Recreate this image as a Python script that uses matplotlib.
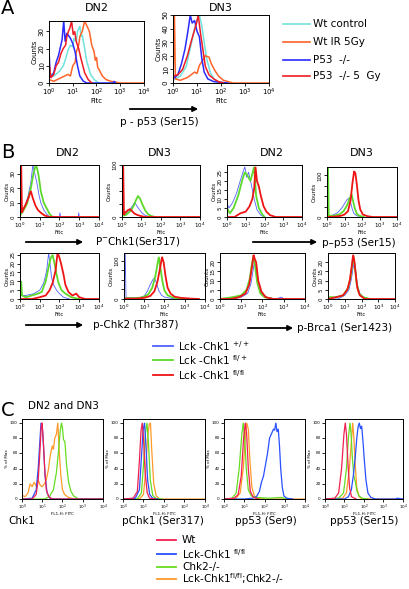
import matplotlib
matplotlib.use('Agg')
import matplotlib.pyplot as plt
import numpy as np

W, H = 410, 589

# ---- panel A : p-p53 (Ser15), Counts vs Fitc (log10 position, count)
A_DN2_WT = [(0.0, 6), (0.2, 4), (0.45, 7), (0.6, 10), (0.7, 14), (0.8, 19), (0.9, 22), (1.0, 21), (1.05, 26), (1.15, 24), (1.2, 30), (1.3, 33), (1.35, 27), (1.4, 28), (1.5, 20), (1.6, 12), (1.75, 5), (1.9, 2), (2.1, 0)]
A_DN2_IR = [(0.0, 2), (0.2, 1), (0.5, 3), (0.8, 5), (0.9, 4), (1.0, 10), (1.1, 12), (1.15, 18), (1.25, 22), (1.3, 27), (1.4, 30), (1.45, 33), (1.5, 36), (1.6, 33), (1.7, 30), (1.75, 26), (1.8, 22), (1.9, 18), (1.95, 13), (2.0, 15), (2.05, 9), (2.1, 8), (2.25, 4), (2.4, 2), (2.6, 1), (3.0, 0), (4.0, 0)]
A_DN2_KO = [(0.0, 20), (0.05, 3), (0.2, 6), (0.3, 12), (0.4, 16), (0.5, 22), (0.55, 25), (0.62, 36), (0.68, 24), (0.75, 29), (0.8, 28), (0.9, 26), (1.0, 23), (1.1, 18), (1.2, 10), (1.3, 4), (1.45, 1), (1.6, 0), (2.7, 0), (2.75, 1), (2.8, 0)]
A_DN2_KO5 = [(0.0, 12), (0.08, 3), (0.2, 5), (0.3, 10), (0.4, 12), (0.5, 17), (0.6, 20), (0.7, 22), (0.75, 27), (0.82, 30), (0.88, 32), (0.95, 36), (1.02, 28), (1.08, 30), (1.15, 24), (1.25, 20), (1.35, 14), (1.5, 6), (1.65, 2), (1.8, 0)]
A_DN3_WT = [(0.0, 2), (0.3, 5), (0.55, 12), (0.75, 28), (0.9, 40), (1.0, 46), (1.1, 50), (1.2, 42), (1.3, 30), (1.4, 18), (1.55, 8), (1.7, 3), (1.9, 0)]
A_DN3_IR = [(0.0, 0), (0.06, 50), (0.1, 3), (0.3, 2), (0.6, 4), (0.9, 8), (1.0, 7), (1.1, 13), (1.25, 17), (1.35, 20), (1.5, 19), (1.6, 14), (1.75, 9), (1.9, 5), (2.1, 2), (2.3, 1), (2.5, 0), (4.0, 0)]
A_DN3_KO = [(0.0, 3), (0.2, 6), (0.35, 14), (0.5, 25), (0.62, 38), (0.72, 50), (0.8, 44), (0.9, 46), (1.0, 38), (1.1, 34), (1.2, 18), (1.3, 8), (1.45, 3), (1.7, 1), (2.3, 0)]
A_DN3_KO5 = [(0.0, 5), (0.2, 6), (0.4, 10), (0.6, 20), (0.75, 30), (0.88, 38), (0.98, 44), (1.05, 50), (1.15, 36), (1.25, 24), (1.35, 12), (1.5, 6), (1.7, 3), (1.9, 1), (2.1, 0)]

# ---- panel B : Lck-Chk1 +/+ (blue), fl/+ (green), fl/fl (red)
B1_DN2_WT = [(0.0, 2), (0.2, 5), (0.4, 14), (0.55, 24), (0.65, 36), (0.75, 30), (0.85, 24), (0.95, 16), (1.05, 10), (1.2, 5), (1.35, 2), (1.5, 0), (2.0, 0), (2.02, 3), (2.05, 0), (2.95, 0), (2.97, 3), (3.0, 0)]
B1_DN2_HET = [(0.0, 1), (0.15, 4), (0.35, 9), (0.55, 20), (0.68, 30), (0.8, 36), (0.88, 33), (0.95, 28), (1.05, 18), (1.2, 10), (1.35, 6), (1.5, 2), (1.65, 0)]
B1_DN2_FL = [(0.0, 0), (0.06, 36), (0.1, 3), (0.15, 5), (0.3, 9), (0.45, 14), (0.55, 18), (0.65, 13), (0.78, 8), (0.9, 5), (1.05, 3), (1.25, 1), (1.5, 0), (4.0, 0)]
B1_DN3_WT = [(0.0, 3), (0.2, 6), (0.4, 14), (0.55, 22), (0.65, 28), (0.75, 22), (0.88, 15), (1.0, 9), (1.15, 4), (1.35, 1), (1.6, 0)]
B1_DN3_HET = [(0.0, 2), (0.2, 4), (0.45, 12), (0.6, 22), (0.72, 33), (0.82, 40), (0.92, 36), (1.05, 24), (1.2, 12), (1.35, 5), (1.5, 2), (1.7, 0)]
B1_DN3_FL = [(0.0, 0), (0.06, 100), (0.1, 4), (0.15, 8), (0.3, 13), (0.4, 15), (0.5, 12), (0.62, 7), (0.78, 4), (0.95, 2), (1.2, 0), (4.0, 0)]
B1_DN2b_WT = [(0.0, 8), (0.1, 5), (0.3, 8), (0.5, 13), (0.7, 20), (0.85, 25), (0.95, 28), (1.05, 22), (1.15, 25), (1.3, 18), (1.45, 10), (1.6, 4), (1.8, 1), (2.0, 0)]
B1_DN2b_HET = [(0.0, 5), (0.15, 2), (0.35, 5), (0.6, 12), (0.8, 20), (0.95, 25), (1.1, 23), (1.25, 20), (1.35, 24), (1.45, 28), (1.55, 12), (1.7, 5), (1.85, 2), (2.0, 0)]
B1_DN2b_FL = [(0.0, 0), (0.4, 0), (0.7, 2), (1.0, 3), (1.2, 6), (1.35, 10), (1.45, 16), (1.52, 28), (1.6, 20), (1.7, 17), (1.8, 12), (1.95, 6), (2.1, 3), (2.3, 1), (2.6, 0), (4.0, 0)]
B1_DN3b_WT = [(0.0, 2), (0.3, 4), (0.6, 10), (0.85, 22), (1.0, 32), (1.15, 42), (1.25, 45), (1.35, 35), (1.45, 18), (1.55, 8), (1.7, 3), (2.0, 0)]
B1_DN3b_HET = [(0.0, 0), (0.06, 120), (0.1, 3), (0.4, 3), (0.7, 6), (0.95, 14), (1.15, 28), (1.3, 45), (1.4, 55), (1.48, 40), (1.58, 22), (1.7, 8), (1.85, 3), (2.1, 0)]
B1_DN3b_FL = [(0.0, 0), (0.5, 1), (0.8, 3), (1.0, 6), (1.2, 14), (1.35, 40), (1.45, 80), (1.55, 110), (1.62, 105), (1.7, 80), (1.8, 40), (1.9, 18), (2.05, 6), (2.3, 2), (2.6, 0), (4.0, 0)]

B2_DN2_WT = [(0.0, 2), (0.3, 2), (0.7, 3), (1.0, 5), (1.2, 9), (1.35, 16), (1.45, 26), (1.52, 20), (1.6, 12), (1.7, 8), (1.85, 5), (2.0, 3), (2.2, 1), (2.5, 0)]
B2_DN2_HET = [(0.0, 0), (0.06, 10), (0.1, 2), (0.3, 1), (0.6, 2), (0.9, 3), (1.1, 4), (1.3, 10), (1.45, 18), (1.55, 23), (1.65, 25), (1.75, 20), (1.85, 14), (1.95, 9), (2.1, 5), (2.3, 3), (2.6, 1), (3.0, 0)]
B2_DN2_FL = [(0.0, 0), (0.6, 0), (1.0, 1), (1.3, 2), (1.5, 5), (1.65, 9), (1.8, 16), (1.9, 26), (1.98, 24), (2.08, 20), (2.2, 14), (2.3, 8), (2.45, 4), (2.65, 2), (2.85, 3), (3.0, 1), (3.3, 0), (4.0, 0)]
B2_DN3_WT = [(0.0, 0), (0.06, 120), (0.1, 3), (0.4, 3), (0.8, 4), (1.0, 8), (1.15, 20), (1.3, 38), (1.42, 50), (1.5, 55), (1.6, 42), (1.72, 22), (1.85, 10), (2.0, 5), (2.3, 2), (2.8, 0)]
B2_DN3_HET = [(0.0, 2), (0.5, 2), (0.9, 4), (1.2, 12), (1.4, 30), (1.55, 60), (1.65, 90), (1.72, 110), (1.8, 80), (1.9, 45), (2.0, 22), (2.15, 10), (2.4, 4), (2.7, 1), (3.0, 0)]
B2_DN3_FL = [(0.0, 1), (0.6, 1), (1.0, 3), (1.3, 8), (1.5, 20), (1.65, 45), (1.78, 80), (1.88, 110), (1.96, 95), (2.05, 60), (2.15, 30), (2.3, 14), (2.5, 6), (2.8, 3), (3.3, 1), (3.7, 0)]
B2_DN2b_WT = [(0.0, 0), (0.6, 0), (1.0, 1), (1.3, 3), (1.45, 8), (1.55, 15), (1.62, 20), (1.7, 16), (1.8, 8), (1.95, 3), (2.2, 1), (2.6, 0), (2.9, 1), (3.0, 0)]
B2_DN2b_HET = [(0.0, 0), (0.6, 1), (1.0, 2), (1.25, 5), (1.4, 11), (1.5, 19), (1.57, 23), (1.65, 18), (1.75, 9), (1.9, 3), (2.1, 1), (2.5, 0)]
B2_DN2b_FL = [(0.0, 0), (0.5, 0), (0.9, 1), (1.2, 3), (1.38, 8), (1.5, 17), (1.58, 24), (1.63, 22), (1.7, 20), (1.8, 10), (1.95, 4), (2.15, 1), (2.5, 0), (4.0, 0)]
B2_DN3b_WT = [(0.0, 0), (0.6, 0), (1.0, 2), (1.25, 5), (1.4, 11), (1.5, 17), (1.57, 20), (1.65, 16), (1.75, 8), (1.9, 3), (2.1, 1), (2.5, 0)]
B2_DN3b_HET = [(0.0, 1), (0.5, 1), (0.9, 2), (1.2, 6), (1.35, 12), (1.45, 19), (1.52, 23), (1.6, 18), (1.7, 9), (1.85, 3), (2.1, 1), (2.5, 0)]
B2_DN3b_FL = [(0.0, 0), (0.5, 1), (0.9, 2), (1.15, 5), (1.3, 10), (1.42, 18), (1.5, 24), (1.57, 21), (1.65, 14), (1.75, 6), (1.9, 2), (2.2, 0), (4.0, 0)]

# ---- panel C : % of Max vs FL1-H: FITC ; Wt, Lck-Chk1 fl/fl, Chk2-/-, double
C_CHK1_WT = [(0.0, 0), (0.5, 0), (0.7, 6), (0.8, 25), (0.88, 60), (0.95, 95), (0.99, 100), (1.05, 78), (1.12, 40), (1.2, 12), (1.32, 3), (1.5, 0), (4.0, 0)]
C_CHK1_KO = [(0.0, 0), (0.5, 1), (0.7, 12), (0.8, 40), (0.88, 75), (0.94, 100), (1.0, 96), (1.06, 70), (1.14, 30), (1.24, 8), (1.38, 1), (1.6, 0), (4.0, 0)]
C_CHK1_CHK2 = [(0.0, 0), (1.1, 0), (1.35, 3), (1.55, 12), (1.7, 35), (1.8, 62), (1.88, 88), (1.95, 100), (2.0, 93), (2.05, 78), (2.12, 75), (2.2, 45), (2.3, 22), (2.42, 10), (2.55, 4), (2.8, 0), (4.0, 0)]
C_CHK1_DKO = [(0.0, 5), (0.15, 3), (0.3, 8), (0.4, 20), (0.5, 16), (0.6, 22), (0.7, 17), (0.8, 25), (0.9, 18), (1.0, 16), (1.1, 20), (1.2, 25), (1.3, 38), (1.4, 58), (1.5, 70), (1.55, 65), (1.62, 80), (1.7, 85), (1.77, 100), (1.84, 62), (1.92, 30), (2.0, 12), (2.1, 6), (2.3, 2), (2.6, 0), (4.0, 0)]
C_PCHK1_WT = [(0.0, 0), (0.5, 1), (0.7, 10), (0.8, 50), (0.88, 90), (0.94, 100), (1.0, 80), (1.08, 35), (1.18, 8), (1.3, 1), (1.6, 0)]
C_PCHK1_KO = [(0.0, 0), (0.6, 1), (0.8, 12), (0.9, 55), (0.98, 90), (1.05, 100), (1.12, 70), (1.2, 25), (1.3, 6), (1.45, 1), (1.7, 0)]
C_PCHK1_CHK2 = [(0.0, 0), (0.7, 0), (0.9, 8), (1.0, 45), (1.1, 88), (1.17, 100), (1.25, 70), (1.33, 25), (1.45, 5), (1.6, 1), (1.9, 0)]
C_PCHK1_DKO = [(0.0, 0), (0.8, 0), (1.0, 6), (1.1, 35), (1.2, 80), (1.28, 98), (1.34, 100), (1.4, 65), (1.5, 20), (1.62, 4), (1.8, 0), (4.0, 0)]
C_S9_WT = [(0.0, 0), (0.5, 1), (0.7, 6), (0.85, 30), (0.97, 80), (1.05, 100), (1.12, 85), (1.2, 40), (1.3, 10), (1.45, 2), (1.7, 0)]
C_S9_KO = [(0.0, 0), (1.0, 0), (1.4, 1), (1.6, 3), (1.75, 10), (1.85, 22), (1.95, 30), (2.05, 45), (2.15, 60), (2.25, 80), (2.35, 86), (2.45, 92), (2.5, 90), (2.56, 100), (2.62, 88), (2.68, 92), (2.74, 70), (2.8, 40), (2.88, 15), (2.96, 4), (3.1, 1), (3.4, 0)]
C_S9_CHK2 = [(0.0, 0), (0.4, 1), (0.6, 8), (0.75, 40), (0.88, 85), (0.95, 100), (1.02, 80), (1.1, 40), (1.2, 12), (1.35, 4), (1.6, 2), (2.2, 1), (2.8, 2), (3.2, 0)]
C_S9_DKO = [(0.0, 0), (0.6, 1), (0.8, 8), (0.95, 40), (1.05, 80), (1.12, 100), (1.2, 92), (1.28, 50), (1.38, 15), (1.5, 4), (1.7, 1), (2.0, 0), (4.0, 0)]
C_S15_WT = [(0.0, 0), (0.5, 1), (0.7, 8), (0.85, 40), (0.97, 85), (1.04, 100), (1.1, 85), (1.18, 45), (1.26, 15), (1.36, 3), (1.6, 0)]
C_S15_KO = [(0.0, 0), (1.0, 0), (1.2, 3), (1.35, 12), (1.45, 30), (1.55, 55), (1.63, 80), (1.7, 95), (1.76, 100), (1.82, 92), (1.88, 96), (1.95, 75), (2.02, 50), (2.1, 25), (2.2, 8), (2.35, 2), (2.6, 0), (3.6, 0), (3.7, 1), (4.0, 0)]
C_S15_CHK2 = [(0.0, 0), (0.7, 1), (0.95, 8), (1.1, 40), (1.2, 80), (1.28, 100), (1.34, 85), (1.4, 55), (1.48, 30), (1.56, 22), (1.64, 10), (1.75, 4), (1.9, 1), (2.2, 0)]
C_S15_DKO = [(0.0, 0), (0.9, 1), (1.1, 8), (1.25, 40), (1.35, 75), (1.42, 100), (1.48, 80), (1.55, 45), (1.63, 15), (1.75, 3), (1.9, 0), (4.0, 0)]

A_COLORS = ['#6fe3dc', '#ff6428', '#2b2bff', '#ee1c25']
A_LABELS = ['Wt control', 'Wt IR 5Gy', 'P53  -/-', 'P53  -/- 5  Gy']
B_COLORS = ['#5060ff', '#5cd82a', '#ee1414']
C_COLORS = ['#f02050', '#2850ff', '#66dd22', '#ff9a2a']
C_LABELS = ['Wt', 'Lck-Chk1 $^{\\mathrm{fl/fl}}$', 'Chk2-/-', 'Lck-Chk1$^{\\mathrm{fl/fl}}$;Chk2-/-']

DECADES = [0, 1, 2, 3, 4]

fig = plt.figure(figsize=(W / 100, H / 100), dpi=100)
fig.patch.set_facecolor('white')


def fx(x):
    return x / W


def fy(y):
    return 1 - y / H


def make_axes(l, t, r, b):
    return fig.add_axes([fx(l), fy(b), fx(r - l), (b - t) / H])


def draw_hist(ax, curves, colors, widths, ylim, yticks, ylabels, tick_fs, ylabel, xlabel, rot=0):
    for pts, c, lw in zip(curves, colors, widths):
        lx = np.array([p[0] for p in pts])
        yv = np.array([p[1] for p in pts])
        ax.plot(10 ** lx, yv, color=c, lw=lw, solid_joinstyle='miter', clip_on=True)
    ax.set_xscale('log')
    ax.set_xlim(1, 1e4)
    ax.set_ylim(0, ylim)
    ax.set_xticks([10 ** d for d in DECADES])
    ax.set_xticklabels(['$10^{%d}$' % d for d in DECADES], fontsize=tick_fs)
    ax.xaxis.set_minor_locator(matplotlib.ticker.NullLocator())
    ax.set_yticks(yticks)
    ax.set_yticklabels(ylabels, fontsize=tick_fs, rotation=rot, va='center')
    ax.tick_params(length=2, width=0.6, pad=1)
    for s in ax.spines.values():
        s.set_linewidth(0.7)
    ax.set_ylabel(ylabel, fontsize=tick_fs, labelpad=1)
    ax.set_xlabel(xlabel, fontsize=tick_fs, labelpad=0)


def arrow(x0, x1, y):
    fig.add_artist(matplotlib.patches.FancyArrowPatch((fx(x0), fy(y)), (fx(x1), fy(y)),
                   transform=fig.transFigure, arrowstyle='-|>,head_length=3,head_width=1.5',
                   color='black', lw=1.3))


# ---------- panel A
fig.text(fx(1), fy(8), 'A', fontsize=14, va='center')
fig.text(fx(97), fy(8), 'DN2', fontsize=8, ha='center', va='center')
fig.text(fx(221), fy(8), 'DN3', fontsize=8, ha='center', va='center')
ax = make_axes(49, 21, 144, 83)
draw_hist(ax, [A_DN2_WT, A_DN2_IR, A_DN2_KO, A_DN2_KO5], A_COLORS, [1.1] * 4,
          36, [0, 10, 20, 30], ['0', '10', '20', '30'], 5, 'Counts', 'Fitc', rot=90)
ax = make_axes(173, 15, 269, 83)
draw_hist(ax, [A_DN3_WT, A_DN3_IR, A_DN3_KO, A_DN3_KO5], A_COLORS, [1.1] * 4,
          50, [0, 10, 20, 30, 40, 50], ['0', '10', '20', '30', '40', '50'], 5, 'Counts', 'Fitc', rot=90)
for i, (lab, c) in enumerate(zip(A_LABELS, A_COLORS)):
    y = [24, 42, 60, 76][i]
    fig.add_artist(matplotlib.lines.Line2D([fx(283), fx(310)], [fy(y), fy(y)], color=c, lw=1.2))
    fig.text(fx(313), fy(y), lab, fontsize=7.5, va='center')
arrow(127, 201, 109)
fig.text(fx(120), fy(122), 'p - p53 (Ser15)', fontsize=7.5, va='center')

# ---------- panel B
fig.text(fx(1), fy(153), 'B', fontsize=14, va='center')
for x, t in zip([68, 160, 272, 362], ['DN2', 'DN3', 'DN2', 'DN3']):
    fig.text(fx(x), fy(153), t, fontsize=8, ha='center', va='center')
bw = [0.6, 1.3, 1.3]
row1 = [(20, 165, 99, 217), (122, 165, 200, 217), (227, 165, 302, 217), (327, 167, 397, 217)]
row2 = [(20, 253, 99, 299), (124, 253, 205, 299), (220, 253, 305, 299), (328, 253, 395, 299)]
ax = make_axes(*row1[0])
draw_hist(ax, [B1_DN2_WT, B1_DN2_HET, B1_DN2_FL], B_COLORS, bw, 36, [0, 10, 20, 30], ['0', '10', '20', '30'], 4, 'Counts', 'Fitc', rot=90)
ax = make_axes(*row1[1])
draw_hist(ax, [B1_DN3_WT, B1_DN3_HET, B1_DN3_FL], B_COLORS, bw, 100, [0, 25, 50, 75, 100], ['0', '', '', '', '100'], 4, 'Counts', 'Fitc', rot=90)
ax = make_axes(*row1[2])
draw_hist(ax, [B1_DN2b_WT, B1_DN2b_HET, B1_DN2b_FL], B_COLORS, bw, 29, [0, 5, 10, 15, 20, 25], ['0', '5', '10', '15', '20', '25'], 4, 'Counts', 'Fitc', rot=90)
ax = make_axes(*row1[3])
draw_hist(ax, [B1_DN3b_WT, B1_DN3b_HET, B1_DN3b_FL], B_COLORS, bw, 120, [0, 25, 50, 75, 100], ['0', '', '', '', '100'], 4, 'Counts', 'Fitc', rot=90)
arrow(23, 86, 242)
fig.text(fx(95), fy(242), 'P$^{-}$Chk1(Ser317)', fontsize=7.5, va='center')
arrow(250, 320, 242)
fig.text(fx(322), fy(243), 'p\u2013p53 (Ser15)', fontsize=7.5, va='center')

ax = make_axes(*row2[0])
draw_hist(ax, [B2_DN2_WT, B2_DN2_HET, B2_DN2_FL], B_COLORS, bw, 26, [0, 5, 10, 15, 20, 25], ['0', '5', '10', '15', '20', '25'], 4, 'Counts', 'Fitc', rot=90)
ax = make_axes(*row2[1])
draw_hist(ax, [B2_DN3_WT, B2_DN3_HET, B2_DN3_FL], B_COLORS, bw, 120, [0, 25, 50, 75, 100], ['0', '', '', '', '100'], 4, 'Counts', 'Fitc', rot=90)
ax = make_axes(*row2[2])
draw_hist(ax, [B2_DN2b_WT, B2_DN2b_HET, B2_DN2b_FL], B_COLORS, bw, 25, [0, 5, 10, 15, 20], ['0', '5', '10', '15', '20'], 4, 'Counts', 'Fitc', rot=90)
ax = make_axes(*row2[3])
draw_hist(ax, [B2_DN3b_WT, B2_DN3b_HET, B2_DN3b_FL], B_COLORS, bw, 25, [0, 5, 10, 15, 20], ['0', '5', '10', '15', '20'], 4, 'Counts', 'Fitc', rot=90)
arrow(23, 86, 325)
fig.text(fx(93), fy(325), 'p-Chk2 (Thr387)', fontsize=7.5, va='center')
arrow(245, 296, 328)
fig.text(fx(297), fy(328), 'p-Brca1 (Ser1423)', fontsize=7.5, va='center')
for i, (lab, c) in enumerate(zip(['+/+', 'fl/+', 'fl/fl'], B_COLORS)):
    y = [346, 360, 375][i]
    fig.add_artist(matplotlib.lines.Line2D([fx(153), fx(173)], [fy(y), fy(y)], color=c, lw=1.3))
    fig.text(fx(178), fy(y), 'Lck -Chk1 $^{\\mathrm{%s}}$' % lab, fontsize=7.5, va='center')

# ---------- panel C
fig.text(fx(1), fy(411), 'C', fontsize=14, va='center')
fig.text(fx(28), fy(406), 'DN2 and DN3', fontsize=7.5, va='center')
c_rects = [(22, 419, 103, 499), (123, 419, 205, 499), (224, 419, 305, 499), (325, 419, 403, 499)]
c_sets = [[C_CHK1_WT, C_CHK1_KO, C_CHK1_CHK2, C_CHK1_DKO],
          [C_PCHK1_WT, C_PCHK1_KO, C_PCHK1_CHK2, C_PCHK1_DKO],
          [C_S9_WT, C_S9_KO, C_S9_CHK2, C_S9_DKO],
          [C_S15_WT, C_S15_KO, C_S15_CHK2, C_S15_DKO]]
c_names = ['Chk1', 'pChk1 (Ser317)', 'pp53 (Ser9)', 'pp53 (Ser15)']
c_name_x = [8, 122, 235, 330]
for rect, curves, name, nx in zip(c_rects, c_sets, c_names, c_name_x):
    ax = make_axes(*rect)
    order = [3, 2, 1, 0]
    draw_hist(ax, [curves[k] for k in order], [C_COLORS[k] for k in order], [0.9] * 4, 105,
              [0, 20, 40, 60, 80, 100], ['0', '20', '40', '60', '80', '100'], 3, '% of Max', 'FL1-H: FITC')
    fig.text(fx(nx), fy(521), name, fontsize=7.5, va='center')
for i, (lab, c) in enumerate(zip(C_LABELS, C_COLORS)):
    y = [540, 554, 567, 579][i]
    fig.add_artist(matplotlib.lines.Line2D([fx(157), fx(176)], [fy(y), fy(y)], color=c, lw=1.3))
    fig.text(fx(182), fy(y), lab, fontsize=7.5, va='center')

fig.savefig('out.png', dpi=100, facecolor='white')
